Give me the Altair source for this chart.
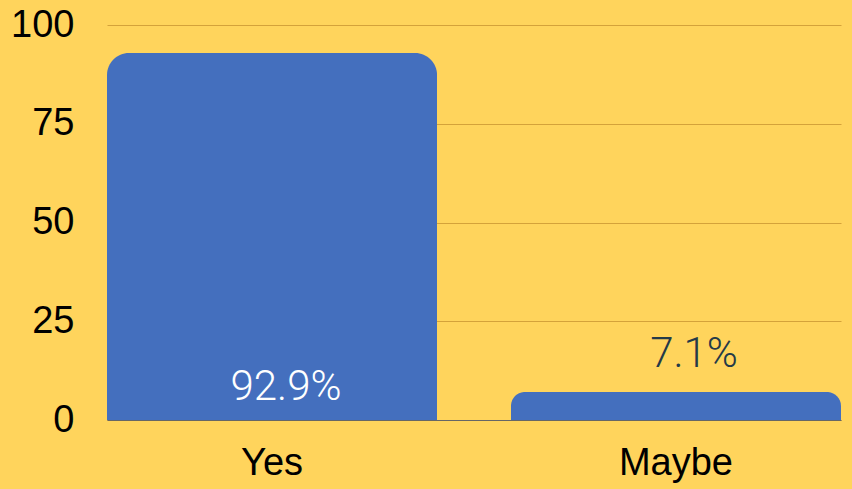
import altair as alt
import pandas as pd

categories = ["Yes", "Maybe"]
values = [92.9, 7.1]
labels = ["92.9%", "7.1%"]

df = pd.DataFrame({"answer": categories, "pct": values, "label": labels})

BG = "#FFD45C"
BAR = "#446FBE"

x = alt.X("answer:N", sort=categories, title=None,
          scale=alt.Scale(paddingInner=0.183, paddingOuter=0),
          axis=alt.Axis(labelAngle=0, labelFont="Liberation Sans", labelFontSize=38,
                        labelColor="#000000", labelPadding=24, ticks=False,
                        domain=True, domainColor="#666666", domainWidth=1.2))
y = alt.Y("pct:Q", title=None,
          scale=alt.Scale(domain=[0, 100]),
          axis=alt.Axis(values=[0, 25, 50, 75, 100], labelFont="Liberation Sans",
                        labelFontSize=38, labelColor="#000000", labelPadding=33,
                        ticks=False, domain=False, gridColor="#D4A23A", gridWidth=1))

base = alt.Chart(df)

bars = base.mark_bar(color=BAR, cornerRadiusTopLeft=22, cornerRadiusTopRight=22).encode(x=x, y=y)

inside = base.transform_filter(alt.datum.answer == "Yes").mark_text(
    font="Roboto", fontSize=42, color="white", dy=-36, dx=14,
    baseline="bottom", fontWeight=300
).encode(x=alt.X("answer:N", sort=categories), y=alt.value(420), text="label:N")

above = base.transform_filter(alt.datum.answer == "Maybe").mark_text(
    font="Roboto", fontSize=42, color="#243A48", dy=-16, dx=18,
    baseline="bottom", fontWeight=300
).encode(x=alt.X("answer:N", sort=categories), y=alt.Y("pct:Q"), text="label:N")

chart = alt.layer(bars, inside, above).properties(
    width=734, height=395, background=BG,
    autosize=alt.AutoSizeParams(type="none"),
    padding={"left": 107, "top": 25, "right": 11, "bottom": 69},
).configure_view(stroke=None)

chart.save("out.html", embed_options={"renderer": "svg", "actions": False})
